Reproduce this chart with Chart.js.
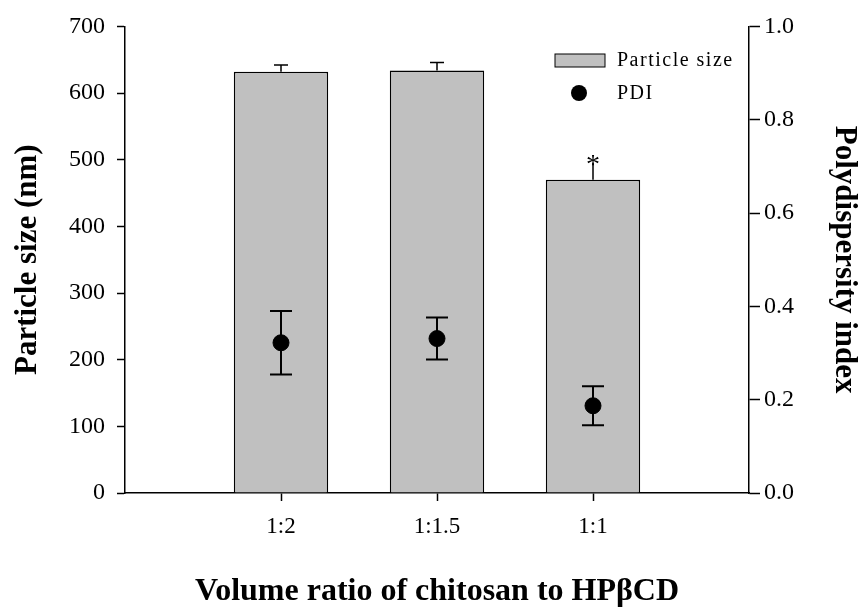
<!DOCTYPE html>
<html>
<head>
<meta charset="utf-8">
<script src="https://cdn.jsdelivr.net/npm/chart.js@4/dist/chart.umd.min.js"></script>
<style>
  html, body { margin: 0; padding: 0; background: #fff; }
  #wrap { width: 860px; height: 608px; }
</style>
</head>
<body>
<div id="wrap"><canvas id="myChart" width="860" height="608"></canvas></div>
<script>
// data
var ratios = ['1:2', '1:1.5', '1:1']
var ratioPos = [1, 2, 3]
var sizeVals = [632, 634, 470]
var sizeErr = [10, 12, 25]
var sizeMarks = ['', '', '*']
var pdiVals = [0.322, 0.331, 0.187]
var pdiErr = [0.068, 0.045, 0.042]
var sizeTicks = [0, 100, 200, 300, 400, 500, 600, 700]
var pdiTicks = [0, 0.2, 0.4, 0.6, 0.8, 1.0]

var serif = "'Liberation Serif', 'Times New Roman', serif"

// error bars + asterisk, drawn through the scales
const errorBars = {
    id: 'errorBars',
    afterDatasetsDraw(chart) {
        const ctx = chart.ctx
        const x = chart.scales.x
        const y = chart.scales.y
        const y1 = chart.scales.y1
        ctx.save()
        ctx.strokeStyle = '#000'

        // particle size: upper error only
        ctx.lineWidth = 1.5
        sizeVals.forEach((v, i) => {
            var px = x.getPixelForValue(ratioPos[i])
            var top = y.getPixelForValue(v)
            var hi = y.getPixelForValue(v + sizeErr[i])
            ctx.beginPath()
            ctx.moveTo(px, top)
            ctx.lineTo(px, hi)
            if (!sizeMarks[i]) {
                ctx.moveTo(px - 7, hi)
                ctx.lineTo(px + 7, hi)
            }
            ctx.stroke()
            if (sizeMarks[i]) {
                ctx.fillStyle = '#000'
                ctx.font = '28px ' + serif
                ctx.textAlign = 'center'
                ctx.textBaseline = 'middle'
                ctx.fillText(sizeMarks[i], px, hi + 3)
            }
        })

        // PDI: both sides
        ctx.lineWidth = 2
        pdiVals.forEach((v, i) => {
            var px = x.getPixelForValue(ratioPos[i])
            var hi = y1.getPixelForValue(v + pdiErr[i])
            var lo = y1.getPixelForValue(v - pdiErr[i])
            ctx.beginPath()
            ctx.moveTo(px, hi)
            ctx.lineTo(px, lo)
            ctx.moveTo(px - 11, hi)
            ctx.lineTo(px + 11, hi)
            ctx.moveTo(px - 11, lo)
            ctx.lineTo(px + 11, lo)
            ctx.stroke()
        })
        ctx.restore()
    }
}

// legend inside the plot, top right
const boxLegend = {
    id: 'boxLegend',
    afterDraw(chart) {
        const ctx = chart.ctx
        const ds = chart.data.datasets
        ctx.save()
        ctx.font = '20px ' + serif
        ctx.letterSpacing = '1.5px'
        ctx.textAlign = 'left'
        ctx.textBaseline = 'middle'

        ctx.fillStyle = '#c0c0c0'
        ctx.fillRect(555, 54, 50, 13)
        ctx.strokeStyle = '#000'
        ctx.lineWidth = 1
        ctx.strokeRect(555, 54, 50, 13)
        ctx.fillStyle = '#000'
        ctx.fillText(ds[0].label, 617, 61)

        ctx.beginPath()
        ctx.arc(579, 93, 8, 0, Math.PI * 2)
        ctx.fill()
        ctx.fillText(ds[1].label, 617, 94)
        ctx.restore()
    }
}

const ctx = document.getElementById('myChart')

const data = {
    datasets: [
        {
            type: 'bar',
            label: 'Particle size',
            data: ratioPos.map((p, i) => ({ x: p, y: sizeVals[i] })),
            backgroundColor: '#c0c0c0',
            borderColor: '#000',
            borderWidth: 1.5,
            barPercentage: 1,
            categoryPercentage: 0.605,
            yAxisID: 'y',
            order: 2
        },
        {
            type: 'scatter',
            label: 'PDI',
            data: ratioPos.map((p, i) => ({ x: p, y: pdiVals[i] })),
            backgroundColor: '#000',
            borderColor: '#000',
            pointRadius: 8,
            yAxisID: 'y1',
            order: 1
        }
    ]
}

const config = {
    data: data,
    plugins: [errorBars, boxLegend],
    options: {
        responsive: false,
        animation: false,
        layout: { padding: { top: 25, left: 0, right: 0, bottom: 0 } },
        plugins: {
            legend: { display: false },
            tooltip: { enabled: false }
        },
        scales: {
            x: {
                type: 'linear',
                min: 0,
                max: 4,
                offset: false,
                afterBuildTicks: s => { s.ticks = ratioPos.map(v => ({ value: v })) },
                afterFit: s => { s.height = 115 },
                grid: { offset: false, drawOnChartArea: false, color: '#000', tickLength: 8, tickWidth: 1.5 },
                border: { color: '#000', width: 1.5 },
                ticks: {
                    color: '#000',
                    padding: 12,
                    font: { family: serif, size: 23 },
                    callback: v => ratios[ratioPos.indexOf(v)] || ''
                },
                title: {
                    display: true,
                    text: 'Volume ratio of chitosan to HPβCD',
                    color: '#000',
                    font: { family: serif, size: 32, weight: 'bold', lineHeight: 1 },
                    padding: { top: 0, bottom: 0 }
                }
            },
            y: {
                position: 'left',
                min: 0,
                max: 700,
                afterBuildTicks: s => { s.ticks = sizeTicks.map(v => ({ value: v })) },
                afterFit: s => { s.width = 125 },
                grid: { drawOnChartArea: false, color: '#000', tickLength: 8, tickWidth: 1.5 },
                border: { color: '#000', width: 1.5 },
                ticks: {
                    color: '#000',
                    padding: 12,
                    font: { family: serif, size: 24 }
                },
                title: {
                    display: true,
                    text: 'Particle size (nm)',
                    color: '#000',
                    font: { family: serif, size: 31, weight: 'bold', lineHeight: 1.2 },
                    padding: { top: 9, bottom: 0 }
                }
            },
            y1: {
                position: 'right',
                min: 0,
                max: 1,
                afterBuildTicks: s => { s.ticks = pdiTicks.map(v => ({ value: v })) },
                afterFit: s => { s.width = 111 },
                grid: { drawOnChartArea: false, color: '#000', tickLength: 11, tickWidth: 1.5 },
                border: { color: '#000', width: 1.5 },
                ticks: {
                    color: '#000',
                    padding: 4,
                    font: { family: serif, size: 24 },
                    callback: v => v.toFixed(1)
                },
                title: {
                    display: true,
                    text: 'Polydispersity index',
                    color: '#000',
                    font: { family: serif, size: 31, weight: 'bold', lineHeight: 1 },
                    padding: { top: 0, bottom: 0 }
                }
            }
        }
    }
}

const myChart = new Chart(ctx, config)
</script>
</body>
</html>
